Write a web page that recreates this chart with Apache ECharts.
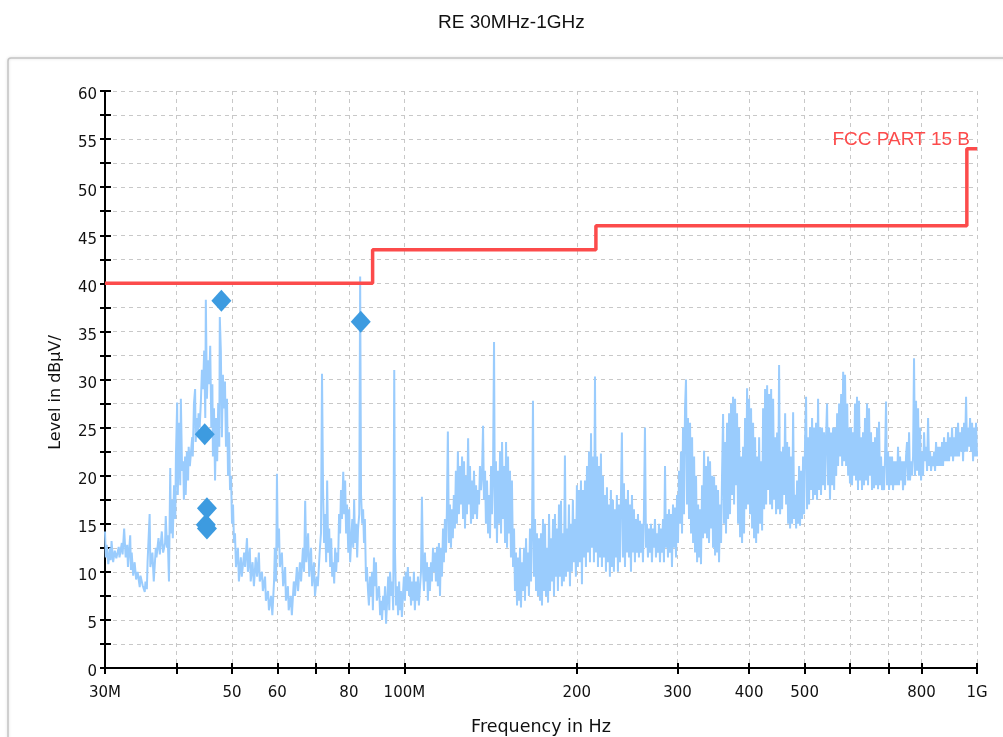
<!DOCTYPE html>
<html>
<head>
<meta charset="utf-8">
<script src="https://cdn.jsdelivr.net/npm/echarts@6/dist/echarts.min.js"></script>
<style>
html,body{margin:0;padding:0;background:#fff;}
#chart{width:1003px;height:737px;}
</style>
</head>
<body>
<div id="chart"></div>
<script>
// ---------- DATA ----------
const titleText = 'RE 30MHz-1GHz';
const xAxisName = 'Frequency in Hz';
const yAxisName = 'Level in dBµV/';
const limitName = 'FCC PART 15 B';

// x tick positions (MHz) and labelled ticks
const xTicks = [30, 40, 50, 60, 70, 80, 100, 200, 300, 400, 500, 600, 700, 800, 1000];
const xLabelValues = [30, 50, 60, 80, 100, 200, 300, 400, 500, 800, 1000];
const xLabelText = ['30M', '50', '60', '80', '100M', '200', '300', '400', '500', '800', '1G'];

// Limit line (FCC Part 15 class B), MHz / dBµV
const limitFreq = [30, 88, 88, 216, 216, 960, 960, 1000];
const limitLevel = [40, 40, 43.5, 43.5, 46, 46, 54, 54];

// Measured peak markers
const markerFreq = [47.9, 83.9, 44.8, 45.2, 45.0, 45.2];
const markerLevel = [38.2, 36.0, 24.3, 16.6, 14.9, 14.5];

// Measured trace 30-100 MHz  [MHz, dBµV]
const traceLow = [
[30.0,14.2],[30.1,11.5],[30.2,12.8],[30.4,10.8],[30.6,12.5],[30.7,11.2],[30.8,13.2],[31.0,11.0],[31.2,12.2],[31.4,11.4],
[31.7,12.6],[31.8,11.5],[32.1,13.0],[32.2,11.8],[32.4,14.5],[32.6,11.5],[32.8,12.8],[32.9,10.5],[33.2,13.8],[33.3,10.2],
[33.4,12.0],[33.6,9.6],[33.8,11.0],[34.0,9.2],[34.2,10.0],[34.5,8.4],[34.6,9.6],[34.9,8.6],[35.2,7.9],[35.3,9.0],
[35.5,8.2],[35.6,11.0],[35.9,16.0],[36.0,10.5],[36.3,12.0],[36.5,9.0],[36.8,12.5],[36.9,11.5],[37.2,13.5],[37.4,11.8],
[37.7,14.2],[37.9,12.0],[38.2,13.0],[38.3,15.8],[38.5,12.5],[38.6,13.8],[38.8,9.0],[39.0,20.8],[39.1,14.0],[39.3,17.5],
[39.4,13.5],[39.6,19.0],[39.8,15.5],[39.9,22.0],[40.1,27.6],[40.2,18.0],[40.4,25.5],[40.6,19.0],[40.7,28.0],[40.9,20.5],
[41.1,21.5],[41.2,17.5],[41.4,22.0],[41.5,18.0],[41.7,22.5],[41.9,19.5],[42.0,23.0],[42.2,21.0],[42.6,24.0],[42.7,22.0],
[42.9,27.5],[43.1,29.0],[43.2,23.5],[43.4,26.0],[43.6,24.0],[43.7,26.5],[43.9,25.0],[44.1,27.5],[44.3,31.0],[44.5,29.0],
[44.7,33.0],[44.9,26.0],[45.0,38.3],[45.2,28.0],[45.4,32.0],[45.6,29.5],[45.8,33.5],[46.0,25.0],[46.2,29.5],[46.3,22.0],
[46.5,27.0],[46.7,19.5],[46.9,26.0],[47.1,21.5],[47.3,27.5],[47.5,23.0],[47.6,36.5],[47.8,33.0],[48.0,24.0],[48.2,30.5],
[48.4,27.0],[48.6,29.8],[48.8,23.0],[49.0,28.0],[49.2,20.0],[49.4,24.5],[49.6,18.5],[49.8,20.0],[50.0,15.0],[50.2,17.0],
[50.4,13.0],[50.6,14.0],[50.8,10.5],[51.2,12.5],[51.4,9.0],[51.8,11.5],[52.0,9.5],[52.5,12.0],[52.7,10.5],[53.1,13.5],
[53.3,10.0],[53.7,12.5],[53.9,9.0],[54.3,11.0],[54.6,8.5],[55.0,11.5],[55.3,9.5],[55.7,12.0],[55.9,9.0],[56.4,10.0],
[56.6,8.0],[57.1,9.5],[57.3,7.0],[57.8,8.0],[58.0,6.0],[58.5,7.5],[58.8,5.5],[59.2,9.0],[59.4,12.5],[59.7,9.0],
[59.9,20.2],[60.1,12.5],[60.4,14.5],[60.6,10.5],[61.1,12.0],[61.4,8.5],[61.9,10.5],[62.1,7.0],[62.6,8.5],[62.8,6.0],
[63.3,7.5],[63.6,5.5],[64.1,9.0],[64.4,7.5],[64.9,10.5],[65.2,8.0],[65.7,11.0],[66.0,9.0],[66.5,12.5],[66.8,10.0],
[67.1,17.4],[67.4,11.0],[67.9,14.0],[68.2,9.5],[68.7,12.5],[69.0,8.5],[69.5,11.0],[69.8,7.5],[70.3,9.5],[70.6,8.5],
[71.2,12.5],[71.5,14.0],[71.8,30.6],[72.1,18.5],[72.4,13.0],[72.7,16.0],[73.0,11.0],[73.3,19.5],[73.6,12.0],[73.9,14.5],
[74.2,10.5],[74.5,13.5],[74.8,9.5],[75.1,11.0],[75.4,8.8],[75.7,12.5],[76.0,10.0],[76.3,12.0],[76.6,11.0],[76.9,16.0],
[77.2,14.0],[77.5,18.5],[77.8,15.5],[78.2,20.4],[78.5,16.0],[78.8,19.5],[79.1,14.0],[79.4,17.0],[79.8,12.0],[80.1,16.5],
[80.4,11.0],[80.7,13.0],[81.1,15.5],[81.4,12.5],[81.7,17.5],[82.0,13.0],[82.4,15.0],[82.7,11.5],[83.0,14.5],[83.4,16.0],
[83.7,40.7],[84.0,18.0],[84.4,15.0],[84.7,16.5],[85.0,13.0],[85.3,15.5],[85.7,9.0],[86.0,10.5],[86.4,8.0],[86.7,6.5],
[87.1,9.5],[87.4,7.5],[87.8,10.0],[88.1,6.0],[88.5,11.5],[88.8,8.5],[89.2,11.0],[89.5,7.0],[90.3,8.5],[90.7,5.5],
[91.0,7.0],[91.4,5.0],[91.8,7.5],[92.2,6.0],[92.5,8.5],[92.9,4.6],[93.3,7.0],[93.7,9.5],[94.1,6.0],[94.4,10.0],
[94.8,7.5],[95.2,9.0],[95.6,6.0],[96.0,31.0],[96.3,12.0],[96.7,6.5],[97.1,8.5],[97.5,5.5],[97.9,9.0],[98.2,6.0],
[98.6,8.0],[99.0,5.3],[99.4,7.5],[99.8,9.5]
];

// Measured trace 100-300 MHz
const traceMid = [
[100.2,7.0],[100.6,10.0],[101.0,8.0],[101.4,10.5],[101.9,7.5],[102.3,9.5],[102.7,6.5],[103.1,9.0],[103.5,7.0],[103.9,10.0],
[104.3,6.0],[104.8,9.0],[105.2,7.0],[105.6,9.5],[106.0,6.5],[106.5,8.5],[106.9,10.0],[107.3,17.8],[107.8,10.0],[108.2,8.0],
[108.6,12.0],[109.1,9.0],[109.5,11.0],[109.9,7.0],[110.4,10.5],[110.8,8.0],[111.3,11.0],[111.7,9.0],[112.2,12.5],[112.6,10.0],
[113.1,12.0],[113.5,9.0],[114.0,12.6],[114.4,8.5],[114.9,13.0],[115.4,7.5],[115.8,12.5],[116.3,9.5],[116.8,14.5],[117.2,11.0],
[117.7,15.5],[118.2,12.0],[118.6,16.0],[119.1,24.6],[119.6,13.0],[120.1,17.0],[120.6,12.5],[121.0,16.5],[121.5,13.5],[122.0,18.0],
[122.5,14.5],[123.0,20.5],[123.5,15.0],[124.0,22.5],[124.5,16.0],[125.1,21.0],[125.6,17.0],[126.1,22.0],[126.6,15.5],[127.1,21.5],
[127.6,14.5],[128.1,20.0],[128.6,16.0],[129.2,23.9],[129.7,17.0],[130.2,21.0],[130.7,15.0],[131.3,19.5],[131.8,15.5],[132.3,20.5],
[132.8,16.0],[133.4,19.0],[133.9,15.5],[134.4,18.5],[135.0,17.0],[135.5,21.0],[136.1,18.5],[136.6,20.0],[137.2,25.2],[137.7,17.5],
[138.3,20.5],[138.8,15.0],[139.4,19.5],[140.0,14.0],[140.5,18.0],[141.1,13.5],[141.7,21.0],[142.2,16.0],[142.8,20.0],[143.4,33.9],
[143.9,14.5],[144.5,21.5],[145.1,13.0],[145.7,20.5],[146.3,15.0],[146.9,22.5],[147.5,14.0],[148.1,23.5],[148.7,15.5],[149.3,21.0],
[149.9,13.0],[150.5,23.5],[151.1,12.5],[151.7,22.0],[152.3,14.0],[152.9,20.5],[153.5,11.5],[154.1,19.5],[154.8,10.5],[155.4,14.5],
[156.0,8.0],[156.6,12.0],[157.3,6.5],[157.9,11.5],[158.5,7.0],[159.2,12.5],[159.8,6.3],[160.5,11.0],[161.1,8.0],[161.8,12.5],
[162.4,7.0],[163.1,13.5],[163.7,8.5],[164.4,12.0],[165.0,7.5],[165.7,14.5],[166.4,9.0],[167.1,15.0],[167.7,27.8],[168.4,9.5],
[169.1,15.5],[169.8,8.0],[170.4,14.0],[171.1,7.5],[171.8,13.5],[172.5,7.0],[173.2,14.0],[173.9,6.5],[174.6,15.5],[175.3,8.0],
[176.0,15.0],[176.7,7.5],[177.4,12.5],[178.2,6.8],[178.9,16.0],[179.6,8.0],[180.3,13.5],[181.0,9.0],[181.8,15.5],[182.5,7.5],
[183.2,16.0],[184.0,9.5],[184.7,14.5],[185.4,8.0],[186.2,17.0],[186.9,9.5],[187.7,17.4],[188.4,8.5],[189.2,14.0],[189.9,9.0],
[190.7,22.1],[191.5,9.5],[192.2,14.5],[193.0,10.0],[193.8,17.0],[194.6,8.5],[195.3,15.0],[196.1,10.0],[196.9,17.5],[197.7,11.0],
[198.5,15.5],[199.3,9.5],[200.1,19.0],[200.9,10.5],[201.7,18.5],[202.6,11.0],[203.4,19.5],[204.2,8.7],[205.0,18.5],[205.9,11.5],
[206.7,19.5],[207.5,10.5],[208.4,21.0],[209.2,12.0],[210.1,22.5],[210.9,11.0],[211.8,24.4],[212.6,12.5],[213.5,22.0],[214.3,11.0],
[215.2,30.3],[216.1,12.0],[217.0,22.0],[217.8,10.5],[218.7,21.0],[219.5,11.5],[220.4,22.3],[221.3,10.5],[222.2,20.0],[223.1,11.5],
[224.0,18.0],[224.9,10.0],[225.8,18.8],[226.7,11.0],[227.6,17.0],[228.5,9.5],[229.4,18.5],[230.4,10.5],[231.3,17.5],[232.2,10.0],
[233.2,16.5],[234.1,11.5],[235.0,18.0],[236.0,10.0],[236.9,17.0],[237.9,11.0],[238.9,18.0],[239.8,24.5],[240.8,11.5],[241.8,19.2],
[242.8,10.5],[243.7,17.5],[244.7,12.0],[245.7,18.5],[246.7,11.5],[247.7,17.0],[248.7,10.0],[249.7,18.0],[250.7,12.0],[251.7,16.5],
[252.7,11.0],[253.7,15.5],[254.8,12.0],[255.8,16.0],[256.8,11.5],[257.9,15.3],[258.9,12.0],[260.0,15.0],[261.0,11.0],[262.0,16.0],
[263.1,25.0],[264.2,12.5],[265.2,15.0],[266.3,11.5],[267.4,14.5],[268.4,12.0],[269.5,15.0],[270.6,11.0],[271.7,14.5],[272.8,12.5],
[273.9,15.5],[275.0,11.5],[276.1,14.0],[277.2,12.0],[278.4,15.0],[279.5,11.0],[280.6,14.5],[281.7,12.0],[282.9,15.5],[284.0,11.0],
[285.2,21.0],[286.3,12.5],[287.5,16.0],[288.6,11.5],[289.8,16.5],[290.9,12.0],[292.1,16.0],[293.3,10.5],[294.5,17.0],[295.7,12.5],
[296.9,16.7],[298.1,11.5],[299.3,18.0]
];

// Measured trace 300-1000 MHz
const traceHigh = [
[300.5,13.0],[301.7,20.5],[302.9,15.0],[304.1,22.5],[305.4,14.0],[306.6,25.0],[307.8,16.0],[309.1,27.0],[310.3,30.0],[311.6,17.0],
[312.8,26.0],[314.1,15.5],[315.4,25.5],[316.7,14.0],[318.0,24.0],[319.3,13.0],[320.6,22.0],[321.8,12.0],[323.1,20.0],[324.5,11.0],
[325.8,17.0],[327.0,11.5],[328.3,16.5],[329.6,10.8],[331.0,19.0],[332.3,13.5],[333.7,22.6],[335.0,14.0],[336.4,21.0],[337.7,13.5],
[339.1,22.0],[340.4,13.0],[341.8,21.5],[343.2,14.5],[344.6,20.0],[346.0,12.5],[347.4,19.9],[348.8,11.7],[350.2,19.0],[351.6,12.0],
[353.0,18.5],[354.4,11.0],[355.8,17.0],[357.3,13.0],[358.7,20.0],[360.2,26.4],[361.6,15.0],[363.1,23.5],[364.5,14.0],[366.0,25.5],
[367.5,15.5],[369.0,26.5],[370.4,16.0],[371.9,27.5],[373.4,18.0],[374.9,28.2],[376.5,17.0],[378.0,28.0],[379.5,19.0],[381.0,26.5],
[382.6,15.0],[384.1,25.0],[385.7,13.6],[387.2,22.0],[388.8,13.0],[390.4,23.0],[391.9,14.0],[393.5,26.0],[395.1,16.5],[396.7,29.1],
[398.3,17.0],[399.9,28.0],[401.5,16.0],[403.1,27.0],[404.8,14.5],[406.4,25.5],[408.0,13.5],[409.7,24.0],[411.4,13.0],[413.0,22.0],
[414.7,14.0],[416.4,24.0],[418.0,15.0],[419.7,21.5],[421.4,14.3],[423.1,27.0],[424.8,16.5],[426.5,29.0],[428.3,17.0],[430.0,29.4],
[431.7,18.5],[433.5,28.5],[435.2,17.0],[437.0,29.0],[438.7,16.5],[440.5,28.0],[442.3,17.5],[444.0,24.0],[445.8,16.0],[447.6,24.5],
[449.4,16.5],[451.2,31.5],[453.0,16.0],[454.9,22.5],[456.7,16.5],[458.5,23.0],[460.4,18.0],[462.3,26.5],[464.1,17.0],[466.0,23.5],
[467.9,15.0],[469.7,23.0],[471.6,14.5],[473.5,22.0],[475.4,15.0],[477.4,26.6],[479.3,15.5],[481.2,18.0],[483.2,14.5],[485.1,19.5],
[487.1,15.0],[489.0,21.0],[490.8,14.8],[492.9,20.5],[494.9,15.5],[496.9,22.0],[498.9,16.0],[500.8,23.5],[502.9,28.2],[504.9,16.5],
[507.0,24.0],[509.0,17.0],[510.9,25.0],[513.1,18.5],[515.2,26.0],[517.2,17.5],[519.3,25.0],[521.3,18.0],[523.5,25.5],[525.6,17.5],
[527.8,28.0],[529.9,18.5],[531.9,25.0],[534.1,18.0],[536.3,25.0],[538.5,19.0],[540.6,24.5],[542.7,18.5],[545.0,24.0],[547.2,27.5],
[549.5,19.0],[551.6,25.0],[553.7,17.5],[556.0,24.5],[558.4,19.0],[560.6,25.0],[563.0,18.5],[565.0,25.0],[567.6,20.0],[569.8,26.5],
[572.0,21.0],[574.4,27.5],[576.4,22.0],[579.1,28.5],[581.5,21.0],[583.8,30.8],[586.2,21.5],[588.2,30.5],[590.8,21.0],[593.4,27.5],
[595.6,20.0],[597.8,25.0],[600.0,19.2],[602.7,25.0],[605.0,19.0],[607.5,24.5],[609.9,20.0],[612.3,27.5],[614.8,19.5],[617.2,28.2],
[619.7,18.5],[622.2,27.8],[624.7,19.5],[627.2,24.0],[629.8,18.5],[632.3,24.5],[634.9,19.0],[637.4,26.0],[640.0,19.5],[642.6,27.5],
[645.2,19.0],[647.8,27.0],[650.4,20.0],[653.0,24.5],[655.7,18.5],[658.3,23.5],[661.0,18.7],[663.6,24.0],[666.3,19.0],[669.0,25.0],
[671.7,18.6],[674.4,25.6],[677.1,19.0],[679.9,22.0],[682.6,18.5],[685.4,21.0],[688.2,18.5],[690.9,22.0],[693.7,27.7],[696.5,19.0],
[699.3,22.5],[702.1,18.5],[704.9,22.0],[707.8,19.0],[710.6,22.0],[713.5,18.5],[716.3,21.5],[719.2,19.0],[722.1,21.5],[725.0,19.0],
[727.9,23.0],[730.9,19.0],[733.8,22.0],[736.8,19.5],[739.8,21.5],[742.7,18.5],[745.8,21.5],[748.8,19.0],[751.8,22.0],[754.8,23.5],
[757.9,19.5],[761.0,24.5],[763.9,19.5],[767.0,21.5],[770.1,20.0],[773.3,22.0],[776.3,32.2],[779.5,20.0],[782.6,27.8],[785.8,20.5],
[789.0,27.0],[792.1,20.0],[795.3,25.0],[798.6,19.5],[801.8,22.5],[805.0,20.0],[808.3,24.5],[811.5,21.5],[814.8,23.0],[818.1,20.5],
[821.4,26.0],[824.7,21.0],[828.0,22.5],[831.3,20.5],[834.7,22.0],[838.1,21.0],[841.4,22.5],[844.8,20.5],[848.2,23.5],[851.6,21.0],
[855.1,23.0],[858.5,21.0],[861.9,23.0],[865.4,21.0],[868.9,23.5],[872.4,21.0],[875.9,24.0],[879.4,21.5],[883.0,23.5],[886.5,21.5],
[890.1,24.5],[893.7,21.5],[897.3,24.0],[900.9,22.0],[904.6,25.0],[908.2,21.5],[911.9,24.0],[915.5,22.0],[919.2,25.0],[922.9,22.0],
[926.7,25.5],[930.4,22.0],[934.1,24.5],[937.9,22.5],[941.7,25.0],[945.5,21.5],[949.3,25.5],[953.1,22.5],[957.0,28.2],[960.9,22.5],
[964.7,25.0],[968.6,23.0],[972.5,26.0],[976.5,22.5],[980.4,25.5],[984.3,21.5],[988.3,25.0],[992.2,22.0],[996.2,25.5],[1000,22.0]
];

// ---------- CHART ----------
const trace = traceLow.concat(traceMid, traceHigh);
const limitData = limitFreq.map((f, i) => [f, limitLevel[i]]);
const markerData = markerFreq.map((f, i) => [f, markerLevel[i]]);
const xLabelMap = {};
xLabelValues.forEach((v, i) => { xLabelMap[v] = xLabelText[i]; });

const FONT = '"Liberation Sans", Arial, sans-serif';
const FONT_WIDE = '"DejaVu Sans", sans-serif';
const chart = echarts.init(document.getElementById('chart'), null, {renderer: 'canvas'});

const xBase = {
  type: 'log', logBase: 10, min: 30, max: 1000, gridIndex: 0
};
const yBase = {
  type: 'value', min: 0, max: 60, interval: 2.5
};

chart.setOption({
  animation: false,
  backgroundColor: '#fff',
  title: {
    text: titleText, left: 433, top: 8,
    textStyle: {fontFamily: FONT, fontSize: 19, fontWeight: 'normal', color: '#111'}
  },
  graphic: [{
    type: 'rect', z: -10, silent: true,
    shape: {x: 8, y: 58, width: 1020, height: 720, r: 3},
    style: {fill: 'none', stroke: '#c4c4c4', lineWidth: 1.5, shadowBlur: 3, shadowColor: 'rgba(0,0,0,0.15)'}
  }],
  grid: {left: 105, right: 26, top: 91, bottom: 69, containLabel: false, outerBoundsMode: 'none'},
  xAxis: [
    Object.assign({}, xBase, {
      position: 'bottom',
      name: xAxisName, nameLocation: 'middle', nameGap: 50,
      nameTextStyle: {fontFamily: FONT_WIDE, fontSize: 17.5, color: '#111'},
      axisLine: {show: true, onZero: false, lineStyle: {color: '#000', width: 2}},
      axisTick: {show: true, inside: false, length: 6, customValues: xTicks, lineStyle: {color: '#000', width: 2}},
      axisLabel: {
        show: true, margin: 18, customValues: xLabelValues,
        fontFamily: FONT_WIDE, fontSize: 15, color: '#111',
        formatter: v => { const k = Math.round(v); return xLabelMap[k] !== undefined ? xLabelMap[k] : ''; }
      },
      splitLine: {show: true, lineStyle: {color: '#c8c8c8', type: [4, 4], width: 1}},
      minorTick: {show: false}
    }),
    Object.assign({}, xBase, {
      position: 'bottom',
      axisLine: {show: false},
      axisTick: {show: true, inside: true, length: 5, customValues: xTicks, lineStyle: {color: '#000', width: 2}},
      axisLabel: {show: false},
      splitLine: {show: false}
    })
  ],
  yAxis: [
    Object.assign({}, yBase, {
      position: 'left',
      name: yAxisName, nameLocation: 'middle', nameGap: 41,
      nameTextStyle: {fontFamily: FONT_WIDE, fontSize: 16, color: '#111', padding: [0, 26, 0, 0]},
      axisLine: {show: true, onZero: false, lineStyle: {color: '#000', width: 2}},
      axisTick: {show: true, inside: false, length: 5, lineStyle: {color: '#000', width: 2}},
      axisLabel: {
        show: true, margin: 8, color: '#111',
        formatter: v => (Math.abs(v % 5) < 1e-9 ? '{t|' + v + '}' : ''),
        rich: {t: {fontFamily: FONT_WIDE, fontSize: 15, color: '#111', padding: [9, 0, 0, 0]}}
      },
      splitLine: {show: true, lineStyle: {color: '#c8c8c8', type: [4, 4], width: 1}}
    }),
    Object.assign({}, yBase, {
      position: 'left',
      axisLine: {show: false},
      axisTick: {show: true, inside: true, length: 6, lineStyle: {color: '#000', width: 2}},
      axisLabel: {show: false},
      splitLine: {show: false}
    })
  ],
  series: [
    {
      name: 'Level', type: 'line', data: trace, xAxisIndex: 0, yAxisIndex: 0,
      showSymbol: false, symbol: 'none', smooth: false, z: 2,
      lineStyle: {color: '#9accfd', width: 2},
      emphasis: {disabled: true}
    },
    {
      name: limitName, type: 'line', data: limitData, xAxisIndex: 0, yAxisIndex: 0,
      showSymbol: false, symbol: 'none', z: 3,
      lineStyle: {color: '#fc4b4b', width: 3.5},
      endLabel: {
        show: true, formatter: limitName, color: '#fc4b4b',
        fontFamily: FONT, fontSize: 19,
        align: 'right', verticalAlign: 'bottom', offset: [-15, 1]
      },
      emphasis: {disabled: true}
    },
    {
      name: 'Peaks', type: 'scatter', data: markerData, xAxisIndex: 0, yAxisIndex: 0,
      symbol: 'diamond', symbolSize: [20, 22], z: 4,
      itemStyle: {color: '#3d9be0', opacity: 1},
      emphasis: {disabled: true}
    }
  ]
});
</script>
</body>
</html>
